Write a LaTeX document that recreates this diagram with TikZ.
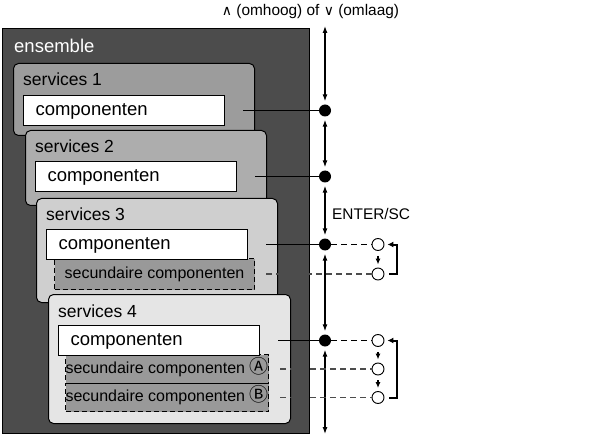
\documentclass[tikz,border=0pt]{standalone}
\usepackage{fontspec}
\setmainfont{Liberation Sans}
\newfontfamily\dejavu{DejaVu Sans}
\newfontfamily\cjk{Noto Sans CJK JP}
\usetikzlibrary{arrows.meta}

\newcommand{\fbig}{\fontsize{18.5}{20}\selectfont}
\newcommand{\fsvc}{\fontsize{17.5}{19}\selectfont}
\newcommand{\fsec}{\fontsize{16}{18}\selectfont}
\newcommand{\fsmall}{\fontsize{15.4}{17}\selectfont}
\newcommand{\encircled}[1]{{\cjk\fontsize{19}{20}\selectfont #1}}

\definecolor{ensgray}{gray}{0.30}
\definecolor{svgrayI}{gray}{0.61}
\definecolor{svgrayII}{gray}{0.68}
\definecolor{svgrayIII}{gray}{0.81}
\definecolor{svgrayIV}{gray}{0.90}
\definecolor{secgray}{gray}{0.60}
\definecolor{dashgray}{gray}{0.30}

\tikzset{
  svbox/.style={draw, line width=1pt, rounded corners=5pt, anchor=north west,
    inner sep=0pt, minimum width=241pt},
  svlabel/.style={anchor=base west, font=\fsvc, inner sep=0pt},
  compbox/.style={draw, fill=white, line width=1pt, anchor=north west,
    inner xsep=12pt, inner ysep=0pt, text width=177pt, align=left,
    minimum height=30pt, font=\fbig, text height=13pt, text depth=3pt},
  secbox/.style={draw, dashed, dash pattern=on 5pt off 3pt, fill=secgray,
    line width=1pt, anchor=north west, inner sep=0pt, minimum width=201pt,
    font=\fsec, text height=11pt, text depth=2.6pt},
  knob/.style={circle, fill=black, inner sep=0pt, minimum size=12pt},
  ring/.style={circle, draw, fill=white, line width=0.9pt, inner sep=0pt,
    minimum size=12pt},
  updown/.style={line width=1.2pt, {Latex[length=7pt,width=5pt]}-{Latex[length=7pt,width=5pt]},
    shorten <=3pt, shorten >=3pt},
  tap/.style={line width=1.2pt, shorten <=18pt},
  dashline/.style={line width=1.2pt, dash pattern=on 6pt off 4pt},
  step down/.style={line width=1.2pt, -{Latex[length=6pt,width=5pt]},
    shorten <=5pt, shorten >=3pt},
  loopback/.style={line width=2pt, -{Latex[length=6pt,width=6pt]},
    shorten <=5pt, shorten >=3pt}
}

\begin{document}
\begin{tikzpicture}[x=1pt,y=-1pt]
  \useasboundingbox (0,0) rectangle (612,438);

  \node[draw, fill=ensgray, line width=1pt, anchor=north west, inner sep=0pt,
    minimum width=307pt, minimum height=405pt] (ens) at (2,28) {};
  \node[anchor=base west, text=white, font=\fbig, inner sep=0pt] (enslab) at (14,53) {ensemble};

  % services 1
  \node[svbox, fill=svgrayI, minimum height=72pt] (sv1) at (13,63) {};
  \node[svlabel] (lab1) at ([shift={(10,23)}]sv1.north west) {services 1};
  \node[compbox] (comp1) at (23,95) {componenten};

  % services 2
  \node[svbox, fill=svgrayII, minimum height=75pt] (sv2) at (25,130) {};
  \node[svlabel] (lab2) at ([shift={(10,23)}]sv2.north west) {services 2};
  \node[compbox] (comp2) at (35,161) {componenten};

  % services 3
  \node[svbox, fill=svgrayIII, minimum height=104pt] (sv3) at (36,198) {};
  \node[svlabel] (lab3) at ([shift={(10,23)}]sv3.north west) {services 3};
  \node[secbox, minimum width=200pt, minimum height=31pt] (sec3) at (54,258) {secundaire componenten};
  \node[compbox] (comp3) at (46,229) {componenten};

  % services 4
  \node[svbox, fill=svgrayIV, minimum width=242pt, minimum height=129pt] (sv4) at (48,294) {};
  \node[svlabel] (lab4) at ([shift={(10,23)}]sv4.north west) {services 4};
  \node[secbox, minimum height=29pt] (secA) at (65,354) {secundaire componenten \encircled{Ⓐ}};
  \node[secbox, minimum height=28pt] (secB) at (65,383) {secundaire componenten \encircled{Ⓑ}};
  \node[compbox] (comp4) at (58,325) {componenten};

  % de keuzeas
  \coordinate (vtop) at (325,23);
  \coordinate (vbot) at (325,437);
  \coordinate (rx) at (378,0);
  \node[knob] (dot1) at (comp1.east -| vtop) {};
  \node[knob] (dot2) at (comp2.east -| vtop) {};
  \node[knob] (dot3) at (comp3.east -| vtop) {};
  \node[knob] (dot4) at (comp4.east -| vtop) {};

  \draw[tap] (comp1.east) -- (dot1);
  \draw[tap] (comp2.east) -- (dot2);
  \draw[tap] (comp3.east) -- (dot3);
  \draw[tap] (comp4.east) -- (dot4);

  \draw[updown] (vtop) -- (dot1);
  \draw[updown] (dot1) -- (dot2);
  \draw[updown] (dot2) -- (dot3);
  \draw[updown] (dot3) -- (dot4);
  \draw[updown] (dot4) -- (vbot);

  \node[font=\fsmall, inner sep=0pt] (updownlab) at (310.5,12)
    {{\dejavu\fontsize{14}{15}\selectfont ∧} (omhoog) of {\dejavu\fontsize{14}{15}\selectfont ∨} (omlaag)};
  \node[anchor=west, font=\fsmall, inner sep=0pt] (enterlab) at (332,214) {ENTER/SC};

  % secundaire keuze, services 3
  \node[ring] (r3a) at (dot3 -| rx) {};
  \node[ring] (r3b) at (sec3.east -| rx) {};
  \draw[dashline] (dot3) -- (r3a);
  \draw[dashline, dashgray, shorten <=11pt] (sec3.east) -- (r3b);
  \draw[step down] (r3a) -- (r3b);
  \draw[loopback] (r3b.east) -- ++(13,0) |- (r3a.east);

  % secundaire keuze, services 4
  \node[ring] (r4a) at (dot4 -| rx) {};
  \node[ring] (r4b) at (secA.east -| rx) {};
  \node[ring] (r4c) at (secB.east -| rx) {};
  \draw[dashline] (dot4) -- (r4a);
  \draw[dashline, dashgray, shorten <=11pt] (secA.east) -- (r4b);
  \draw[dashline, dashgray, shorten <=11pt] (secB.east) -- (r4c);
  \draw[step down] (r4a) -- (r4b);
  \draw[step down] (r4b) -- (r4c);
  \draw[loopback] (r4c.east) -- ++(13,0) |- (r4a.east);
\end{tikzpicture}
\end{document}
